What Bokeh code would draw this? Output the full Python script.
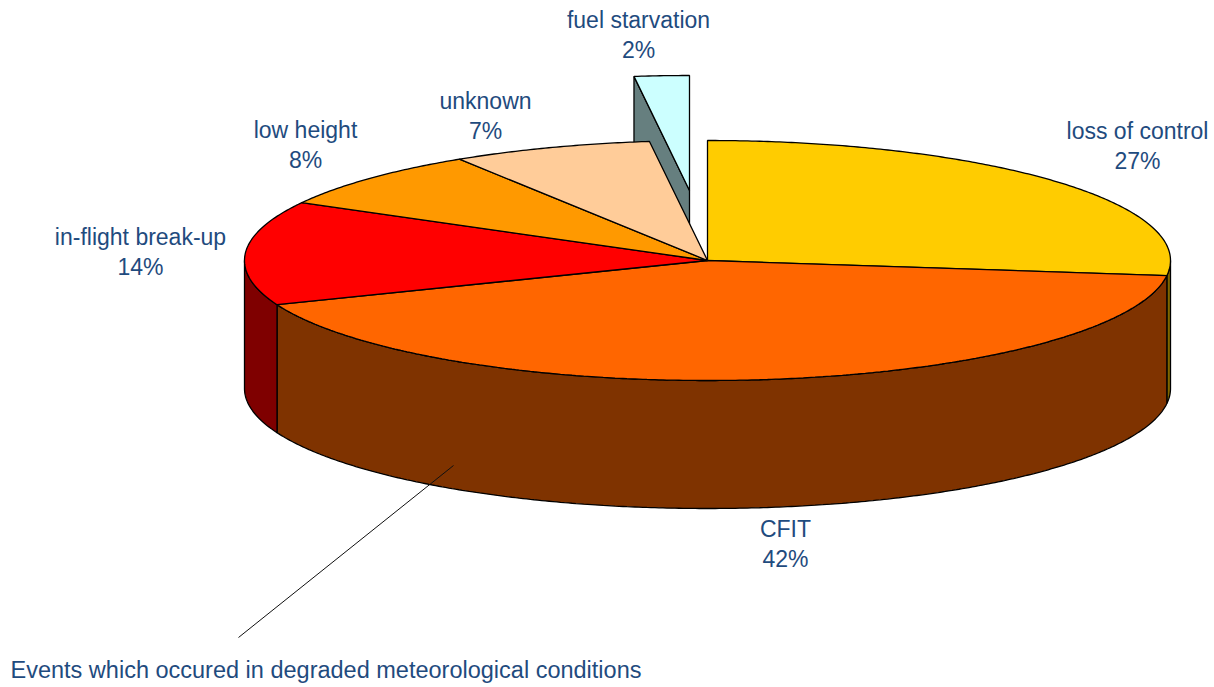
import numpy as np
from bokeh.plotting import figure
from bokeh.models import Range1d
from bokeh.core.properties import value
from bokeh.embed import file_html
from bokeh.resources import INLINE

# ---- data ----
categories = ["loss of control", "CFIT", "in-flight break-up", "low height", "unknown", "fuel starvation"]
shares = [27, 42, 14, 8, 7, 2]
exploded = [False, False, False, False, False, True]
top_colors = ["#FFCC00", "#FF6600", "#FF0000", "#FF9900", "#FFCC99", "#CCFFFF"]
wall_colors = ["#7F6600", "#7F3300", "#7F0000", "#7F4C00", "#7F664C", "#667F7F"]
note = "Events which occured in degraded meteorological  conditions"

# ---- layout (page pixels) ----
CX, CY, RX, RY, DEPTH = 707.0, 260.0, 463.0, 120.0, 128.0
EX_CX, EX_CY, EX_RX, EX_RY = 689.0, 190.0, 443.0, 115.0
label_centres = [(1137, 130), (785, 528), (140, 236), (305, 129), (485, 100), (638, 19)]
LINE_GAP = 30
TEXT = "#1F4B7E"
FONT = value("Liberation Sans")
SIZE = "23px"

p = figure(width=1214, height=687, output_backend="svg", toolbar_location=None,
           x_range=Range1d(0, 1214), y_range=Range1d(687, 0),
           min_border=0, outline_line_color=None, background_fill_color="white",
           border_fill_color="white")
p.axis.visible = False
p.grid.visible = False


def arc(t0, t1, cx=CX, cy=CY, rx=RX, ry=RY):
    n = max(2, int(abs(t1 - t0) * 2) + 2)
    t = np.radians(np.linspace(t0, t1, n))
    return cx + rx * np.sin(t), cy - ry * np.cos(t)


edges = np.concatenate([[0.0], np.cumsum(shares)]) * 360.0 / sum(shares)
OUT = dict(line_color="black", line_width=1.3)

# exploded slices are behind everything else
for i, is_ex in enumerate(exploded):
    if not is_ex:
        continue
    ax, ay = arc(edges[i], edges[i + 1], EX_CX, EX_CY, EX_RX, EX_RY)
    p.patch([ax[0], EX_CX, EX_CX, ax[0]],
            [ay[0], EX_CY, EX_CY + DEPTH, ay[0] + DEPTH],
            fill_color=wall_colors[i], **OUT)
    p.patch(list(ax) + [EX_CX], list(ay) + [EX_CY], fill_color=top_colors[i], **OUT)

# front walls (only the part of the rim between 90 and 270 degrees shows)
for i, is_ex in enumerate(exploded):
    lo, hi = max(edges[i], 90.0), min(edges[i + 1], 270.0)
    if is_ex or lo >= hi:
        continue
    ax, ay = arc(lo, hi)
    p.patch(list(ax) + list(ax[::-1]), list(ay) + list(ay[::-1] + DEPTH),
            fill_color=wall_colors[i], **OUT)

# top faces
for i, is_ex in enumerate(exploded):
    if is_ex:
        continue
    ax, ay = arc(edges[i], edges[i + 1])
    p.patch([CX] + list(ax), [CY] + list(ay), fill_color=top_colors[i], **OUT)

# labels
for name, share, (lx, ly) in zip(categories, shares, label_centres):
    p.text([lx, lx], [ly, ly + LINE_GAP], text=[name, f"{share}%"], text_font=FONT,
           text_font_size=SIZE, text_color=TEXT, text_align="center", text_baseline="middle")

# leader and note
p.line([238, 453], [637, 465], line_color="#111111", line_width=1)
p.text([10], [669], text=[note], text_font=FONT, text_font_size="23.5px", text_color=TEXT,
       text_align="left", text_baseline="middle")

open("out.html", "w").write(file_html(p, INLINE))
